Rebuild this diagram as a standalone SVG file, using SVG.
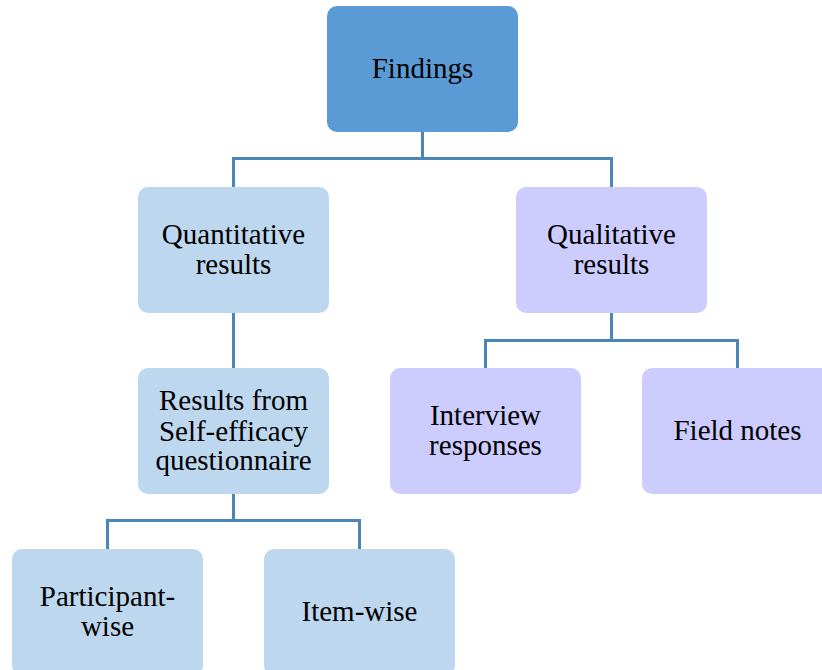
<svg xmlns="http://www.w3.org/2000/svg" width="822" height="670" viewBox="0 0 822 670">
  <style>
    .box { stroke: none; }
    .top { fill: #5b9bd5; }
    .quant { fill: #bdd7ee; }
    .qual { fill: #ccccff; }
    .lbl { font-family: "Liberation Serif", "Times New Roman", serif; font-size: 29px; fill: #000; text-anchor: middle; }
    .link { fill: none; stroke: #4a86b8; stroke-width: 3; }
  </style>
  <rect width="822" height="670" fill="#ffffff"/>

  <g id="connectors">
    <path class="link" d="M422.5 132 V158.5 M233.5 187 V158.5 H611.5 V187"/>
    <path class="link" d="M233.5 313 V368"/>
    <path class="link" d="M611.5 313 V340.5 M485.5 368 V340.5 H737.5 V368"/>
    <path class="link" d="M233.5 494 V520.5 M107.5 549 V520.5 H359.5 V549"/>
  </g>

  <g id="findings">
    <rect class="box top" x="327" y="6" width="191" height="126" rx="10"/>
    <text class="lbl" x="422.5" y="78">Findings</text>
  </g>

  <g id="quantitative">
    <rect class="box quant" x="138" y="187" width="191" height="126" rx="10"/>
    <text class="lbl" x="233.5" y="244">Quantitative</text>
    <text class="lbl" x="233.5" y="273.5">results</text>
  </g>

  <g id="qualitative">
    <rect class="box qual" x="516" y="187" width="191" height="126" rx="10"/>
    <text class="lbl" x="611.5" y="244">Qualitative</text>
    <text class="lbl" x="611.5" y="273.5">results</text>
  </g>

  <g id="questionnaire">
    <rect class="box quant" x="138" y="368" width="191" height="126" rx="10"/>
    <text class="lbl" x="233.5" y="410">Results from</text>
    <text class="lbl" x="233.5" y="441">Self-efficacy</text>
    <text class="lbl" x="233.5" y="470">questionnaire</text>
  </g>

  <g id="interview">
    <rect class="box qual" x="390" y="368" width="191" height="126" rx="10"/>
    <text class="lbl" x="485.5" y="425">Interview</text>
    <text class="lbl" x="485.5" y="454.5">responses</text>
  </g>

  <g id="fieldnotes">
    <rect class="box qual" x="642" y="368" width="191" height="126" rx="10"/>
    <text class="lbl" x="737.5" y="440">Field notes</text>
  </g>

  <g id="participant">
    <rect class="box quant" x="12" y="549" width="191" height="126" rx="10"/>
    <text class="lbl" x="107.5" y="606">Participant-</text>
    <text class="lbl" x="107.5" y="635.5">wise</text>
  </g>

  <g id="itemwise">
    <rect class="box quant" x="264" y="549" width="191" height="126" rx="10"/>
    <text class="lbl" x="359.5" y="621">Item-wise</text>
  </g>
</svg>
